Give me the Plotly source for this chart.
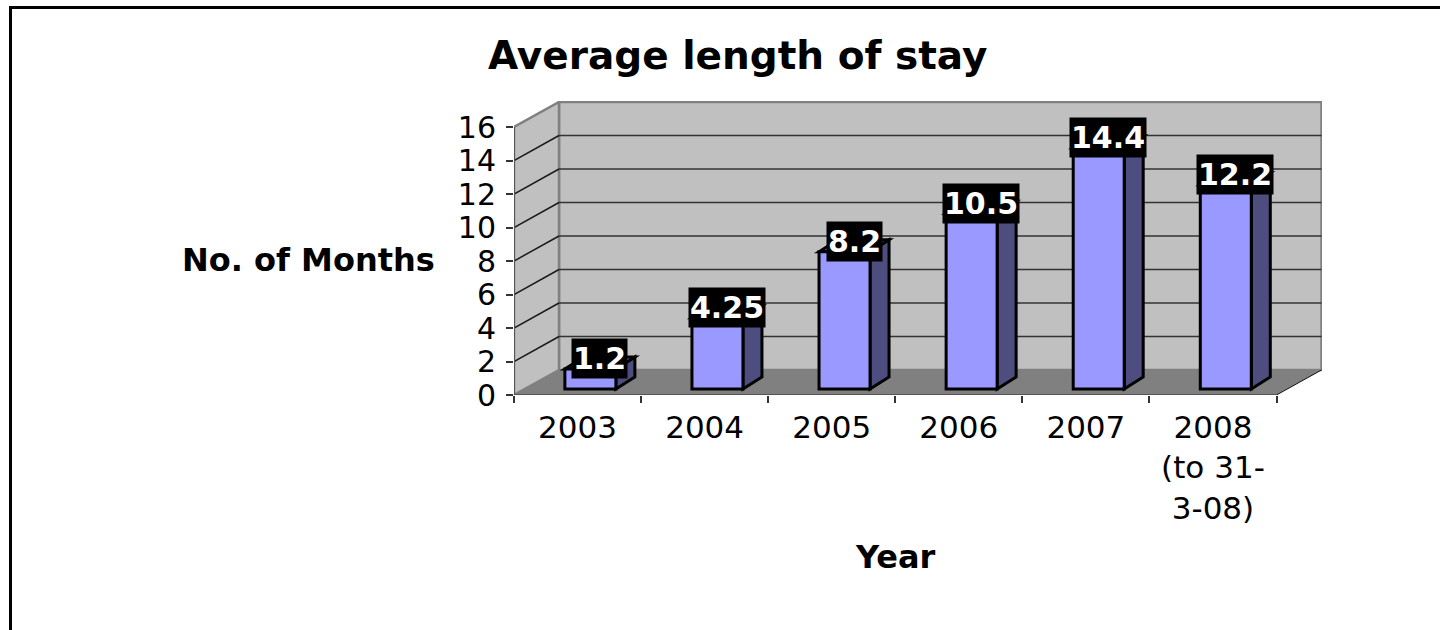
import plotly.graph_objects as go

categories = ["2003", "2004", "2005", "2006", "2007", "2008<br>(to 31-<br>3-08)"]
values = [1.2, 4.25, 8.2, 10.5, 14.4, 12.2]
value_labels = ["1.2", "4.25", "8.2", "10.5", "14.4", "12.2"]
y_ticks = [0, 2, 4, 6, 8, 10, 12, 14, 16]
title_text = "Average length of stay"
y_title = "No. of Months"
x_title = "Year"

W, H = 1440, 630
L, R, T, B = 514, 1322, 101, 395       # plot box in pixels
PX_X = (1276.5 - 514) / 6              # pixels per category
PX_Y = (395 - 127) / 16                # pixels per month
XMIN = -0.5
XMAX = XMIN + (R - L) / PX_X
YMAX = (B - T) / PX_Y
DX, DY = 45 / PX_X, 25 / PX_Y          # depth of the chart box
BAR_W = 51 / PX_X
BAR_DX = 0.101                         # bar shift along the depth
BAR_BASE = 6 / PX_Y
SIDE_X, SIDE_Y = 19 / PX_X, 12 / PX_Y
FONT = "DejaVu Sans"
XN = len(categories) - 0.5


def poly(points, fill, line=None, width=0, layer="below"):
    path = "M " + " L ".join(f"{x},{y}" for x, y in points) + " Z"
    return dict(type="path", path=path, xref="x", yref="y", fillcolor=fill, layer=layer,
                line=dict(color=line or fill, width=width))


def seg(x0, y0, x1, y1, color, width):
    return dict(type="line", x0=x0, y0=y0, x1=x1, y1=y1, xref="x", yref="y",
                layer="below", line=dict(color=color, width=width))


shapes = [
    poly([(XMIN + DX, DY), (XN + DX, DY), (XN + DX, 16 + DY), (XMIN + DX, 16 + DY)], "#C0C0C0", "#808080", 2.5),
    poly([(XMIN, 0), (XMIN + DX, DY), (XMIN + DX, 16 + DY), (XMIN, 16)], "#C0C0C0", "#808080", 2.5),
    poly([(XMIN, 0), (XN, 0), (XN + DX, DY), (XMIN + DX, DY)], "#808080"),
]
for t in y_ticks[1:-1]:
    shapes.append(seg(XMIN, t, XMIN + DX, t + DY, "#1a1a1a", 1.5))
    shapes.append(seg(XMIN + DX, t + DY, XN + DX, t + DY, "#333333", 1.5))
shapes.append(seg(XMIN, 0, XMIN, 16, "#555555", 2))
shapes.append(seg(XMIN, 0, XN, 0, "#555555", 2))
shapes.append(seg(XN, 0, XN + DX, DY, "#111111", 1))

annotations = []
for i, (v, s) in enumerate(zip(values, value_labels)):
    x0 = i + BAR_DX - BAR_W / 2
    x1 = i + BAR_DX + BAR_W / 2
    y0 = BAR_BASE
    y1 = BAR_BASE + v
    shapes.append(poly([(x1, y0), (x1 + SIDE_X, y0 + SIDE_Y), (x1 + SIDE_X, y1 + SIDE_Y), (x1, y1)],
                       "#4D4D80", "#000000", 3))
    shapes.append(poly([(x0, y1), (x1, y1), (x1 + SIDE_X, y1 + SIDE_Y), (x0 + SIDE_X, y1 + SIDE_Y)],
                       "#7A7ACC", "#000000", 3))
    annotations.append(dict(x=i + BAR_DX + SIDE_X / 2, y=y1, xref="x", yref="y", text=f"<b>{s}</b>",
                            showarrow=False, yshift=10, bgcolor="#000000", borderpad=0,
                            width=76 if len(s) > 3 else 55, height=39, align="center", valign="middle",
                            font=dict(family=FONT, size=30, color="#FFFFFF")))


def label(text, px, py, size, bold=True):
    return dict(x=(px - L) / (R - L), y=(B - py) / (B - T), xref="paper", yref="paper", text=f"<b>{text}</b>",
                showarrow=False, xanchor="center", yanchor="middle",
                font=dict(family=FONT, size=size, color="#000000"))


annotations += [label(title_text, 737, 55, 39), label(y_title, 308, 260, 32), label(x_title, 895, 557, 32)]

# outer frame: top and left edges only
shapes += [
    dict(type="line", xref="paper", yref="paper", x0=(10.5 - L) / (R - L), x1=(W - L) / (R - L),
         y0=(B - 7.5) / (B - T), y1=(B - 7.5) / (B - T), line=dict(color="#000000", width=3)),
    dict(type="line", xref="paper", yref="paper", x0=(10.5 - L) / (R - L), x1=(10.5 - L) / (R - L),
         y0=(B - 6) / (B - T), y1=(B - H) / (B - T), line=dict(color="#000000", width=3)),
]

fig = go.Figure(go.Bar(
    x=[i + BAR_DX for i in range(len(values))], y=values, base=BAR_BASE, width=BAR_W,
    marker=dict(color="#9999FF", line=dict(color="#000000", width=3)), hoverinfo="skip",
))
fig.update_layout(
    width=W, height=H, margin=dict(l=L, r=W - R, t=T, b=H - B, pad=0),
    paper_bgcolor="#FFFFFF", plot_bgcolor="#FFFFFF", showlegend=False,
    shapes=shapes, annotations=annotations,
    xaxis=dict(range=[XMIN, XMAX], tickmode="array", tickvals=list(range(len(categories))), ticktext=categories,
               ticks="", showgrid=False, zeroline=False, showline=False,
               tickfont=dict(family=FONT, size=31, color="#000000"), ticklabelstandoff=11,
               minor=dict(tickmode="array", tickvals=[i - 0.5 for i in range(len(categories) + 1)],
                          ticks="outside", ticklen=7, tickwidth=1.5, tickcolor="#333333", showgrid=False)),
    yaxis=dict(range=[0, YMAX], tickmode="array", tickvals=y_ticks, ticks="outside", ticklen=7, tickwidth=1.5,
               tickcolor="#333333", showgrid=False, zeroline=False, showline=False,
               tickfont=dict(family=FONT, size=30, color="#000000"), ticklabelstandoff=4),
)
fig.write_html("out.html", config=dict(displayModeBar=False),
               post_script="document.body.style.margin='0';document.body.style.overflow='hidden';")
